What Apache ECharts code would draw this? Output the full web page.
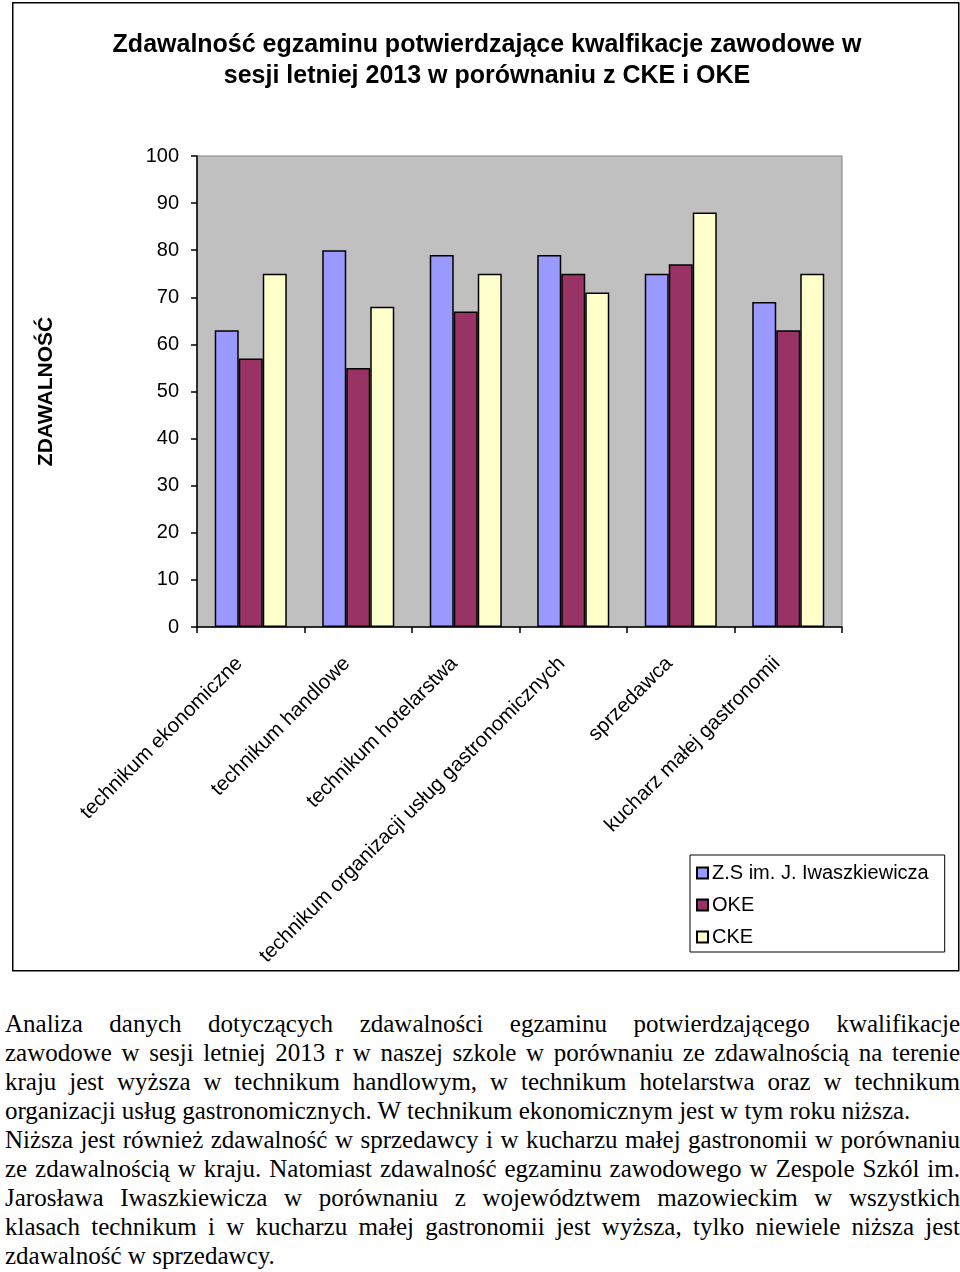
<!DOCTYPE html>
<html>
<head>
<meta charset="utf-8">
<script src="https://cdn.jsdelivr.net/npm/echarts@6/dist/echarts.min.js"></script>
<style>
  html, body { margin: 0; padding: 0; background: #fff; }
  #chart { position: absolute; left: 0; top: 0; width: 960px; height: 975px; }
  #text { position: absolute; left: 5px; top: 1009px; width: 955px;
          font-family: "Liberation Serif", "Times New Roman", serif; font-size: 25px;
          line-height: 29px; color: #000; }
  #text div { white-space: nowrap; text-align: justify; text-align-last: justify; }
  #text div.last { text-align-last: left; }
</style>
</head>
<body>
<div id="chart"></div>
<div id="text"></div>
<script>
const titleText = 'Zdawalność egzaminu potwierdzające kwalfikacje zawodowe w\nsesji letniej 2013 w porównaniu z CKE i OKE';
const yAxisTitle = 'ZDAWALNOŚĆ';
const categories = [
  'technikum ekonomiczne',
  'technikum handlowe',
  'technikum hotelarstwa',
  'technikum organizacji usług gastronomicznych',
  'sprzedawca',
  'kucharz małej gastronomii'
];
const seriesNames = ['Z.S im. J. Iwaszkiewicza', 'OKE', 'CKE'];
const zsValues  = [63, 80, 79, 79, 75, 69];
const okeValues = [57, 55, 67, 75, 77, 63];
const ckeValues = [75, 68, 75, 71, 88, 75];
const yMin = 0, yMax = 100, yInterval = 10;

const paragraphLines = [
  ['Analiza danych dotyczących zdawalności egzaminu potwierdzającego kwalifikacje', false],
  ['zawodowe w sesji letniej 2013 r w naszej szkole w porównaniu ze zdawalnością na terenie', false],
  ['kraju jest wyższa w technikum handlowym, w technikum hotelarstwa oraz w technikum', false],
  ['organizacji usług gastronomicznych. W technikum ekonomicznym jest w tym roku niższa.', true],
  ['Niższa jest również zdawalność w sprzedawcy i w kucharzu małej gastronomii w porównaniu', false],
  ['ze zdawalnością w kraju. Natomiast zdawalność egzaminu zawodowego w Zespole Szkól im.', false],
  ['Jarosława Iwaszkiewicza w porównaniu z województwem mazowieckim w wszystkich', false],
  ['klasach technikum i w kucharzu małej gastronomii jest wyższa, tylko niewiele niższa jest', false],
  ['zdawalność w sprzedawcy.', true]
];

const textBox = document.getElementById('text');
paragraphLines.forEach(([t, last]) => {
  const d = document.createElement('div');
  d.textContent = t;
  if (last) d.className = 'last';
  textBox.appendChild(d);
});

const colors = ['#9999FF', '#993366', '#FFFFCC'];
const values = [zsValues, okeValues, ckeValues];
const font = 'Arial, "Liberation Sans", sans-serif';

const chart = echarts.init(document.getElementById('chart'), null, { renderer: 'canvas' });
chart.setOption({
  animation: false,
  backgroundColor: '#fff',
  graphic: [{
    type: 'rect', left: 12, top: 2, z: -1,
    shape: { width: 946, height: 968 },
    style: { fill: '#fff', stroke: '#000', lineWidth: 1.5 }
  }],
  title: {
    text: titleText,
    left: 482, top: 25, textAlign: 'center',
    textStyle: { fontFamily: font, fontWeight: 'bold', fontSize: 25, lineHeight: 31, color: '#000' }
  },
  legend: {
    orient: 'vertical',
    left: 690, top: 855,
    padding: [8, 16, 5, 6],
    borderColor: '#000', borderWidth: 1,
    itemWidth: 11, itemHeight: 11, itemGap: 12,
    icon: 'rect',
    textStyle: { fontFamily: font, fontSize: 20, color: '#000', padding: [0, 0, 0, -1] },
    data: seriesNames
  },
  grid: {
    left: 197, top: 156, width: 645, height: 471,
    show: true, backgroundColor: '#C0C0C0', borderColor: '#808080', borderWidth: 1
  },
  xAxis: {
    type: 'category',
    data: categories,
    boundaryGap: true,
    axisLine: { lineStyle: { color: '#000', width: 1.5 } },
    axisTick: { show: true, length: 6, lineStyle: { color: '#000', width: 1.5 } },
    axisLabel: { interval: 0, rotate: 45, margin: 22, padding: [0, 16, 0, 0],
                 fontFamily: font, fontSize: 20.5, color: '#000' }
  },
  yAxis: {
    type: 'value',
    min: yMin, max: yMax, interval: yInterval,
    name: yAxisTitle,
    nameLocation: 'middle',
    nameGap: 140,
    nameRotate: 90,
    nameTextStyle: { fontFamily: font, fontWeight: 'bold', fontSize: 21, color: '#000' },
    axisLine: { show: true, lineStyle: { color: '#000', width: 1.5 } },
    axisTick: { show: true, length: 6, lineStyle: { color: '#000', width: 1.5 } },
    splitLine: { show: false },
    axisLabel: { margin: 18, fontFamily: font, fontSize: 20, color: '#000' }
  },
  series: seriesNames.map((n, i) => ({
    name: n,
    type: 'bar',
    data: values[i],
    barGap: '0%',
    barCategoryGap: '33%',
    itemStyle: { color: colors[i], borderColor: '#000', borderWidth: 1.5 }
  }))
});
</script>
</body>
</html>
